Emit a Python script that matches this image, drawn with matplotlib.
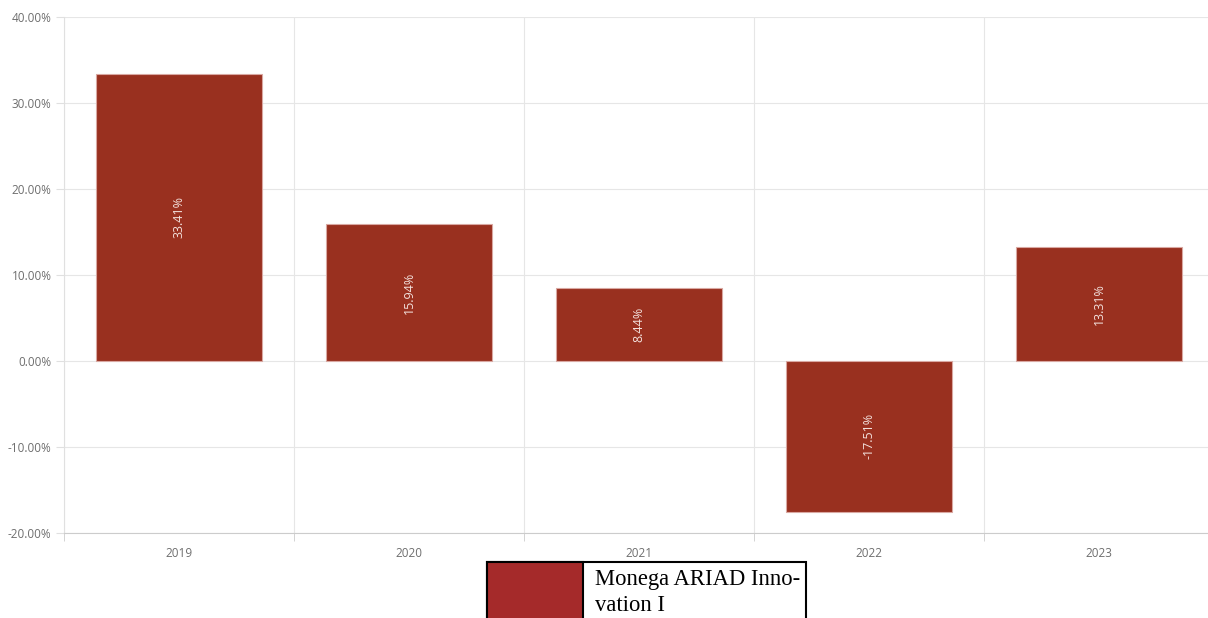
import matplotlib.pyplot as plt
from matplotlib.patches import Rectangle
from matplotlib.ticker import FuncFormatter, FixedLocator
import numpy as np

years = ["2019", "2020", "2021", "2022", "2023"]
returns = [33.41, 15.94, 8.44, -17.51, 13.31]
series_name = "Monega ARIAD Inno-\nvation I"

W, H = 1208, 618
fig = plt.figure(figsize=(W / 100, H / 100), dpi=100)
# axes spans 64..1214 px horizontally (runs slightly off the right edge)
ax = fig.add_axes([64 / W, (H - 533) / H, 1150 / W, 516 / H])

x = np.arange(len(years))
bars = ax.bar(x, returns, width=0.72, color="#99301f", edgecolor="#d9a8a2",
              linewidth=0.8, zorder=3)
ax.bar_label(bars, labels=[f"{v:.2f}%" for v in returns], label_type="center",
             rotation=90, color="#f3e1dd", fontsize=9, family="Open Sans")

ax.set_xlim(-0.5, len(years) - 0.5)
ax.set_ylim(-20, 40)
ax.set_yticks(np.arange(-20, 41, 10))
ax.yaxis.set_major_formatter(FuncFormatter(lambda v, p: f"{v:.2f}%"))

ax.set_xticks(x)
ax.set_xticklabels(years)
ax.xaxis.set_minor_locator(FixedLocator(np.arange(-0.5, len(years), 1.0)))
ax.tick_params(axis="x", which="major", length=0, pad=10, labelsize=8.5, labelcolor="#6e6e6e")
ax.tick_params(axis="x", which="minor", length=6, color="#cccccc")
ax.tick_params(axis="y", length=6, color="#e0e0e0", pad=3, labelsize=8.5, labelcolor="#6e6e6e")
for lab in ax.get_xticklabels() + ax.get_yticklabels():
    lab.set_family("Open Sans")

ax.grid(axis="y", color="#e6e6e6", linewidth=0.8, zorder=0)
ax.grid(axis="x", which="minor", color="#e6e6e6", linewidth=0.8, zorder=0)
ax.grid(axis="x", which="major", visible=False)

for s in ["top", "right"]:
    ax.spines[s].set_visible(False)
ax.spines["left"].set_color("#e0e0e0")
ax.spines["bottom"].set_color("#cccccc")

# legend box drawn in figure pixels
def px(xp, yp):
    return xp / W, 1 - yp / H

lx0, ly0, lx1, ly1 = 487, 562, 806, 630
fig.add_artist(Rectangle(px(lx0, ly1), (lx1 - lx0) / W, (ly1 - ly0) / H,
                         transform=fig.transFigure, facecolor="white",
                         edgecolor="black", linewidth=1.5))
fig.add_artist(Rectangle(px(lx0, ly1), (583 - lx0) / W, (ly1 - ly0) / H,
                         transform=fig.transFigure, facecolor="#a52a2a",
                         edgecolor="black", linewidth=1.5))
tx, ty = px(595, 569)
fig.text(tx, ty, series_name, family="Liberation Serif", fontsize=16.3,
         va="top", ha="left", linespacing=1.32, color="black")

fig.savefig("out.png", dpi=100)
